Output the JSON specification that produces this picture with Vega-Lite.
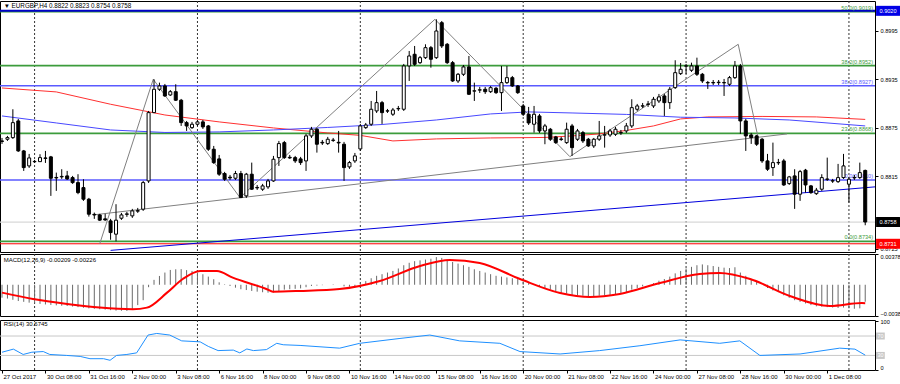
{
"$schema":"https://vega.github.io/schema/vega-lite/v6.json",
"padding":{"left":-3,"top":0,"right":0,"bottom":0},
"background":"white",
"spacing":0,
"config":{"view":{"stroke":"#000","strokeWidth":1},"font":"Liberation Sans","text":{"font":"Liberation Sans"},"axis":{"labelFont":"Liberation Sans","grid":false,"domain":false,"tickColor":"#000","labelColor":"#000","tickSize":3}},
"resolve":{"scale":{"x":"independent","y":"independent"}},
"datasets":{
"grid":[{"i":6},{"i":36},{"i":66},{"i":96},{"i":126},{"i":156}],
"levels":[{"p":0.9019,"g":"fibA"},{"p":0.8952,"g":"fibA"},{"p":0.8868,"g":"fibA"},{"p":0.8734,"g":"fibA"},{"p":0.8927,"g":"fibB"},{"p":0.8810,"g":"fibB"},{"p":0.8758,"g":"bid"},{"p":0.8731,"g":"low"},{"p":0.9020,"g":"top"}],
"fibtext":[{"p":0.9019,"t":"50.0(0.9019)","g":"fibA"},{"p":0.8952,"t":"38.2(0.8952)","g":"fibA"},{"p":0.8927,"t":"38.2(0.8927)","g":"fibB"},{"p":0.8868,"t":"23.6(0.8868)","g":"fibA"},{"p":0.8810,"t":"0.0(0.8810)","g":"fibB"},{"p":0.8734,"t":"0.0(0.8734)","g":"fibA"}],
"boxes":[{"p":0.9020,"t":"0.9020","g":"top"},{"p":0.8758,"t":"0.8758","g":"bid"},{"p":0.8731,"t":"0.8731","g":"low"}],
"lines":[
{"n":"maR","i":0,"p":0.89243},{"n":"maR","i":10,"p":0.89194},{"n":"maR","i":20,"p":0.89041},{"n":"maR","i":30,"p":0.88908},{"n":"maR","i":40,"p":0.88822},{"n":"maR","i":50,"p":0.88747},{"n":"maR","i":60,"p":0.88685},{"n":"maR","i":66,"p":0.88655},{"n":"maR","i":72,"p":0.88586},{"n":"maR","i":80,"p":0.88611},{"n":"maR","i":90,"p":0.88623},{"n":"maR","i":100,"p":0.88629},{"n":"maR","i":105,"p":0.88648},{"n":"maR","i":110,"p":0.88673},{"n":"maR","i":115,"p":0.88716},{"n":"maR","i":120,"p":0.88772},{"n":"maR","i":125,"p":0.88859},{"n":"maR","i":130,"p":0.88884},{"n":"maR","i":140,"p":0.8889},{"n":"maR","i":150,"p":0.88884},{"n":"maR","i":159,"p":0.88853},
{"n":"maB","i":0,"p":0.88896},{"n":"maB","i":10,"p":0.88809},{"n":"maB","i":20,"p":0.88722},{"n":"maB","i":30,"p":0.88691},{"n":"maB","i":40,"p":0.88698},{"n":"maB","i":50,"p":0.88722},{"n":"maB","i":60,"p":0.88753},{"n":"maB","i":70,"p":0.8879},{"n":"maB","i":80,"p":0.88846},{"n":"maB","i":90,"p":0.88921},{"n":"maB","i":97,"p":0.88946},{"n":"maB","i":105,"p":0.88933},{"n":"maB","i":115,"p":0.88915},{"n":"maB","i":125,"p":0.8888},{"n":"maB","i":135,"p":0.88871},{"n":"maB","i":145,"p":0.88846},{"n":"maB","i":159,"p":0.88772},
{"n":"tr","i":16.8,"p":0.87668},{"n":"tr","i":144.6,"p":0.88673},
{"n":"zz","i":18,"p":0.8731},{"n":"zz","i":27.86,"p":0.89351},{"n":"zz","i":43.83,"p":0.87883},{"n":"zz","i":79.74,"p":0.90095},{"n":"zz","i":104.6,"p":0.88391},{"n":"zz","i":135.6,"p":0.89785},{"n":"zz","i":139.2,"p":0.88648},
{"n":"bt","i":20,"p":0.87228},{"n":"bt","i":160.8,"p":0.88016}
],
"candles":[
{"i":0,"o":0.88586,"h":0.88623,"l":0.88549,"c":0.8858},
{"i":1,"o":0.88607,"h":0.88648,"l":0.88586,"c":0.88627},
{"i":2,"o":0.88627,"h":0.88979,"l":0.88611,"c":0.88813},
{"i":3,"o":0.88834,"h":0.88859,"l":0.8845,"c":0.88462},
{"i":4,"o":0.88462,"h":0.88474,"l":0.88214,"c":0.88255},
{"i":5,"o":0.88276,"h":0.88425,"l":0.88251,"c":0.88375},
{"i":6,"o":0.88332,"h":0.8835,"l":0.88313,"c":0.88328},
{"i":7,"o":0.88329,"h":0.88421,"l":0.88326,"c":0.88379},
{"i":8,"o":0.88375,"h":0.88462,"l":0.88313,"c":0.88369},
{"i":9,"o":0.88388,"h":0.884,"l":0.87904,"c":0.88123},
{"i":10,"o":0.88133,"h":0.88193,"l":0.87966,"c":0.88127},
{"i":11,"o":0.8814,"h":0.88235,"l":0.88115,"c":0.88146},
{"i":12,"o":0.88152,"h":0.88214,"l":0.88102,"c":0.88115},
{"i":13,"o":0.88131,"h":0.88152,"l":0.88053,"c":0.88069},
{"i":14,"o":0.88069,"h":0.88173,"l":0.87925,"c":0.87945},
{"i":15,"o":0.88007,"h":0.88111,"l":0.87842,"c":0.87863},
{"i":16,"o":0.87863,"h":0.87879,"l":0.87647,"c":0.87677},
{"i":17,"o":0.87675,"h":0.87697,"l":0.87619,"c":0.87668},
{"i":18,"o":0.87668,"h":0.87681,"l":0.87594,"c":0.87603},
{"i":19,"o":0.87619,"h":0.87681,"l":0.87594,"c":0.87606},
{"i":20,"o":0.87594,"h":0.87619,"l":0.8736,"c":0.87449},
{"i":21,"o":0.87429,"h":0.87801,"l":0.8734,"c":0.87603},
{"i":22,"o":0.87627,"h":0.87693,"l":0.87606,"c":0.87668},
{"i":23,"o":0.87675,"h":0.87706,"l":0.87644,"c":0.87681},
{"i":24,"o":0.87656,"h":0.87743,"l":0.87631,"c":0.87718},
{"i":25,"o":0.87714,"h":0.87755,"l":0.87693,"c":0.87722},
{"i":26,"o":0.87739,"h":0.8809,"l":0.87718,"c":0.88069},
{"i":27,"o":0.8809,"h":0.88958,"l":0.88065,"c":0.88937},
{"i":28,"o":0.88937,"h":0.89351,"l":0.88933,"c":0.89227},
{"i":29,"o":0.89227,"h":0.89309,"l":0.89206,"c":0.89268},
{"i":30,"o":0.89268,"h":0.89293,"l":0.89132,"c":0.89144},
{"i":31,"o":0.89156,"h":0.89218,"l":0.89144,"c":0.89197},
{"i":32,"o":0.89197,"h":0.89289,"l":0.89082,"c":0.89091},
{"i":33,"o":0.89091,"h":0.89107,"l":0.88772,"c":0.88813},
{"i":34,"o":0.88813,"h":0.88834,"l":0.8871,"c":0.88772},
{"i":35,"o":0.88751,"h":0.88822,"l":0.88735,"c":0.88793},
{"i":36,"o":0.88793,"h":0.88846,"l":0.88772,"c":0.88822},
{"i":37,"o":0.88822,"h":0.88846,"l":0.88735,"c":0.8876},
{"i":38,"o":0.88772,"h":0.88784,"l":0.88462,"c":0.88483},
{"i":39,"o":0.88483,"h":0.88524,"l":0.88301,"c":0.88317},
{"i":40,"o":0.88363,"h":0.88412,"l":0.88152,"c":0.88173},
{"i":41,"o":0.88181,"h":0.88202,"l":0.8809,"c":0.88111},
{"i":42,"o":0.88136,"h":0.88164,"l":0.88102,"c":0.88127},
{"i":43,"o":0.88123,"h":0.88214,"l":0.88102,"c":0.88181},
{"i":44,"o":0.88181,"h":0.88214,"l":0.87879,"c":0.87883},
{"i":45,"o":0.87904,"h":0.88189,"l":0.87879,"c":0.88173},
{"i":46,"o":0.88173,"h":0.88317,"l":0.87978,"c":0.87987},
{"i":47,"o":0.88009,"h":0.8804,"l":0.87978,"c":0.88003},
{"i":48,"o":0.87987,"h":0.88053,"l":0.87966,"c":0.88028},
{"i":49,"o":0.88016,"h":0.88115,"l":0.87991,"c":0.8809},
{"i":50,"o":0.8809,"h":0.884,"l":0.88078,"c":0.88359},
{"i":51,"o":0.88379,"h":0.88586,"l":0.88276,"c":0.88553},
{"i":52,"o":0.88565,"h":0.88586,"l":0.88363,"c":0.88379},
{"i":53,"o":0.88383,"h":0.88412,"l":0.88363,"c":0.88375},
{"i":54,"o":0.88379,"h":0.884,"l":0.88313,"c":0.88338},
{"i":55,"o":0.88363,"h":0.88388,"l":0.88288,"c":0.88317},
{"i":56,"o":0.88338,"h":0.88673,"l":0.88214,"c":0.88648},
{"i":57,"o":0.88648,"h":0.8876,"l":0.88623,"c":0.88731},
{"i":58,"o":0.88731,"h":0.88747,"l":0.88441,"c":0.88545},
{"i":59,"o":0.88569,"h":0.88598,"l":0.88536,"c":0.88561},
{"i":60,"o":0.88553,"h":0.88636,"l":0.88536,"c":0.88607},
{"i":61,"o":0.88592,"h":0.88623,"l":0.88574,"c":0.88597},
{"i":62,"o":0.88569,"h":0.8871,"l":0.88441,"c":0.88561},
{"i":63,"o":0.88545,"h":0.88574,"l":0.8809,"c":0.88255},
{"i":64,"o":0.88264,"h":0.88338,"l":0.88239,"c":0.88317},
{"i":65,"o":0.88338,"h":0.88437,"l":0.88313,"c":0.884},
{"i":66,"o":0.88487,"h":0.88797,"l":0.88462,"c":0.88772},
{"i":67,"o":0.88751,"h":0.88809,"l":0.88735,"c":0.88784},
{"i":68,"o":0.88793,"h":0.89082,"l":0.88772,"c":0.88979},
{"i":69,"o":0.88958,"h":0.89206,"l":0.88933,"c":0.89061},
{"i":70,"o":0.89061,"h":0.89082,"l":0.88797,"c":0.88937},
{"i":71,"o":0.88956,"h":0.88983,"l":0.88933,"c":0.8896},
{"i":72,"o":0.88917,"h":0.88995,"l":0.88896,"c":0.8897},
{"i":73,"o":0.88984,"h":0.8902,"l":0.88958,"c":0.88989},
{"i":74,"o":0.88979,"h":0.89541,"l":0.88958,"c":0.89516},
{"i":75,"o":0.89516,"h":0.89702,"l":0.8933,"c":0.8964},
{"i":76,"o":0.89661,"h":0.89764,"l":0.89516,"c":0.89537},
{"i":77,"o":0.89557,"h":0.8964,"l":0.89541,"c":0.89619},
{"i":78,"o":0.89619,"h":0.89785,"l":0.89603,"c":0.89743},
{"i":79,"o":0.89743,"h":0.89764,"l":0.89495,"c":0.89599},
{"i":80,"o":0.89619,"h":0.90095,"l":0.89603,"c":0.8995},
{"i":81,"o":0.90053,"h":0.90074,"l":0.89739,"c":0.89764},
{"i":82,"o":0.89785,"h":0.89801,"l":0.89541,"c":0.89557},
{"i":83,"o":0.89557,"h":0.89578,"l":0.89318,"c":0.8933},
{"i":84,"o":0.8933,"h":0.89429,"l":0.89305,"c":0.89413},
{"i":85,"o":0.89413,"h":0.89528,"l":0.89392,"c":0.89504},
{"i":86,"o":0.89504,"h":0.8964,"l":0.89156,"c":0.89165},
{"i":87,"o":0.89204,"h":0.89309,"l":0.89082,"c":0.89208},
{"i":88,"o":0.89216,"h":0.89256,"l":0.89181,"c":0.89221},
{"i":89,"o":0.89227,"h":0.89256,"l":0.89169,"c":0.89197},
{"i":90,"o":0.89197,"h":0.89268,"l":0.89181,"c":0.89247},
{"i":91,"o":0.89239,"h":0.89256,"l":0.89169,"c":0.89185},
{"i":92,"o":0.89185,"h":0.89516,"l":0.88958,"c":0.89309},
{"i":93,"o":0.89309,"h":0.89516,"l":0.89293,"c":0.89371},
{"i":94,"o":0.89371,"h":0.89392,"l":0.89256,"c":0.89268},
{"i":95,"o":0.89268,"h":0.8928,"l":0.89169,"c":0.89185},
{"i":96,"o":0.8902,"h":0.89045,"l":0.88896,"c":0.88917},
{"i":97,"o":0.88917,"h":0.89008,"l":0.88784,"c":0.88809},
{"i":98,"o":0.88793,"h":0.8902,"l":0.88689,"c":0.88917},
{"i":99,"o":0.88896,"h":0.88921,"l":0.88685,"c":0.8871},
{"i":100,"o":0.8871,"h":0.88797,"l":0.88545,"c":0.88772},
{"i":101,"o":0.88731,"h":0.88747,"l":0.88586,"c":0.88607},
{"i":102,"o":0.88636,"h":0.88648,"l":0.88549,"c":0.88565},
{"i":103,"o":0.8861,"h":0.88636,"l":0.88586,"c":0.88605},
{"i":104,"o":0.88565,"h":0.88813,"l":0.88549,"c":0.88731},
{"i":105,"o":0.88772,"h":0.88797,"l":0.884,"c":0.88503},
{"i":106,"o":0.88607,"h":0.88735,"l":0.88586,"c":0.8871},
{"i":107,"o":0.88689,"h":0.8871,"l":0.88561,"c":0.88586},
{"i":108,"o":0.88607,"h":0.88623,"l":0.88512,"c":0.88524},
{"i":109,"o":0.88524,"h":0.88623,"l":0.88499,"c":0.88607},
{"i":110,"o":0.88607,"h":0.88834,"l":0.88586,"c":0.88648},
{"i":111,"o":0.88658,"h":0.88772,"l":0.88503,"c":0.88663},
{"i":112,"o":0.8866,"h":0.88735,"l":0.88636,"c":0.8871},
{"i":113,"o":0.88669,"h":0.8876,"l":0.88648,"c":0.88731},
{"i":114,"o":0.88686,"h":0.88722,"l":0.8866,"c":0.88691},
{"i":115,"o":0.8871,"h":0.88809,"l":0.88685,"c":0.88772},
{"i":116,"o":0.88772,"h":0.89103,"l":0.88747,"c":0.88999},
{"i":117,"o":0.88979,"h":0.89045,"l":0.88958,"c":0.8902},
{"i":118,"o":0.89018,"h":0.89057,"l":0.88995,"c":0.89022},
{"i":119,"o":0.89039,"h":0.89082,"l":0.89008,"c":0.89044},
{"i":120,"o":0.8902,"h":0.89132,"l":0.88995,"c":0.89103},
{"i":121,"o":0.89082,"h":0.89169,"l":0.89057,"c":0.89132},
{"i":122,"o":0.89144,"h":0.89169,"l":0.88896,"c":0.89061},
{"i":123,"o":0.89061,"h":0.89256,"l":0.88983,"c":0.89227},
{"i":124,"o":0.89247,"h":0.89587,"l":0.89231,"c":0.89433},
{"i":125,"o":0.89421,"h":0.89553,"l":0.89404,"c":0.89475},
{"i":126,"o":0.89514,"h":0.89541,"l":0.89417,"c":0.89518},
{"i":127,"o":0.89463,"h":0.89557,"l":0.89442,"c":0.89516},
{"i":128,"o":0.89516,"h":0.89619,"l":0.89392,"c":0.89413},
{"i":129,"o":0.89413,"h":0.89429,"l":0.89305,"c":0.8933},
{"i":130,"o":0.89306,"h":0.8933,"l":0.89231,"c":0.89311},
{"i":131,"o":0.89311,"h":0.89342,"l":0.8928,"c":0.89306},
{"i":132,"o":0.89309,"h":0.89342,"l":0.8928,"c":0.89314},
{"i":133,"o":0.89306,"h":0.89355,"l":0.89144,"c":0.89311},
{"i":134,"o":0.89289,"h":0.89392,"l":0.89268,"c":0.89371},
{"i":135,"o":0.89371,"h":0.89578,"l":0.89355,"c":0.89516},
{"i":136,"o":0.89516,"h":0.89541,"l":0.88673,"c":0.88834},
{"i":137,"o":0.88834,"h":0.88859,"l":0.88462,"c":0.88648},
{"i":138,"o":0.8866,"h":0.88685,"l":0.88549,"c":0.88627},
{"i":139,"o":0.88648,"h":0.8866,"l":0.88524,"c":0.88545},
{"i":140,"o":0.88607,"h":0.88623,"l":0.88313,"c":0.88338},
{"i":141,"o":0.88338,"h":0.88425,"l":0.88214,"c":0.88235},
{"i":142,"o":0.88255,"h":0.88565,"l":0.88152,"c":0.88317},
{"i":143,"o":0.88314,"h":0.88363,"l":0.88288,"c":0.88319},
{"i":144,"o":0.88338,"h":0.88363,"l":0.88028,"c":0.8804},
{"i":145,"o":0.88057,"h":0.88152,"l":0.8804,"c":0.8814},
{"i":146,"o":0.88152,"h":0.88235,"l":0.87743,"c":0.87925},
{"i":147,"o":0.87925,"h":0.88226,"l":0.87842,"c":0.88205},
{"i":148,"o":0.88223,"h":0.88239,"l":0.87945,"c":0.8804},
{"i":149,"o":0.88028,"h":0.8804,"l":0.87929,"c":0.87945},
{"i":150,"o":0.87932,"h":0.88003,"l":0.87916,"c":0.87975},
{"i":151,"o":0.87987,"h":0.88173,"l":0.87966,"c":0.88131},
{"i":152,"o":0.88109,"h":0.88379,"l":0.8809,"c":0.88114},
{"i":153,"o":0.88088,"h":0.88115,"l":0.88065,"c":0.88093},
{"i":154,"o":0.88081,"h":0.88301,"l":0.88065,"c":0.88131},
{"i":155,"o":0.88131,"h":0.88425,"l":0.88115,"c":0.88276},
{"i":156,"o":0.88049,"h":0.8814,"l":0.87821,"c":0.88111},
{"i":157,"o":0.88128,"h":0.88164,"l":0.88102,"c":0.88133},
{"i":158,"o":0.88131,"h":0.88317,"l":0.88115,"c":0.88193},
{"i":159,"o":0.8822,"h":0.8823,"l":0.8754,"c":0.8758}
],
"macd":[
{"i":0,"m":-0.00159},{"i":1,"m":-0.0017},{"i":2,"m":-0.00185},{"i":3,"m":-0.002},{"i":4,"m":-0.0021},{"i":5,"m":-0.0022},{"i":6,"m":-0.00228},{"i":7,"m":-0.00235},{"i":8,"m":-0.00242},{"i":9,"m":-0.00248},{"i":10,"m":-0.00253},{"i":11,"m":-0.00258},{"i":12,"m":-0.00261},{"i":13,"m":-0.00268},{"i":14,"m":-0.00275},{"i":15,"m":-0.00283},{"i":16,"m":-0.0029},{"i":17,"m":-0.00296},{"i":18,"m":-0.00301},{"i":19,"m":-0.00306},{"i":20,"m":-0.00312},{"i":21,"m":-0.00318},{"i":22,"m":-0.0032},{"i":23,"m":-0.00322},{"i":24,"m":-0.0031},{"i":25,"m":-0.0025},{"i":26,"m":-0.0019},{"i":27,"m":-0.0003},{"i":28,"m":0.0006},{"i":29,"m":0.00108},{"i":30,"m":0.0015},{"i":31,"m":0.00182},{"i":32,"m":0.0019},{"i":33,"m":0.00192},{"i":34,"m":0.0018},{"i":35,"m":0.0017},{"i":36,"m":0.0015},{"i":37,"m":0.00129},{"i":38,"m":0.001},{"i":39,"m":0.00068},{"i":40,"m":0.0003},{"i":41,"m":0.00006},{"i":42,"m":-0.00015},{"i":43,"m":-0.00036},{"i":44,"m":-0.00055},{"i":45,"m":-0.00065},{"i":46,"m":-0.00076},{"i":47,"m":-0.00085},{"i":48,"m":-0.00092},{"i":49,"m":-0.00097},{"i":50,"m":-0.00095},{"i":51,"m":-0.0008},{"i":52,"m":-0.0006},{"i":53,"m":-0.00055},{"i":54,"m":-0.0005},{"i":55,"m":-0.00045},{"i":56,"m":-0.0003},{"i":57,"m":-0.00015},{"i":58,"m":-0.0001},{"i":59,"m":-0.00005},{"i":60,"m":0.0},{"i":61,"m":0.00005},{"i":62,"m":0.0},{"i":63,"m":-0.0002},{"i":64,"m":-0.00025},{"i":65,"m":-0.00015},{"i":66,"m":0.0002},{"i":67,"m":0.00045},{"i":68,"m":0.0008},{"i":69,"m":0.0011},{"i":70,"m":0.0013},{"i":71,"m":0.0015},{"i":72,"m":0.0017},{"i":73,"m":0.002},{"i":74,"m":0.0024},{"i":75,"m":0.0027},{"i":76,"m":0.0029},{"i":77,"m":0.003},{"i":78,"m":0.0031},{"i":79,"m":0.0032},{"i":80,"m":0.0034},{"i":81,"m":0.0033},{"i":82,"m":0.0031},{"i":83,"m":0.0028},{"i":84,"m":0.0026},{"i":85,"m":0.0024},{"i":86,"m":0.0022},{"i":87,"m":0.0019},{"i":88,"m":0.0017},{"i":89,"m":0.0015},{"i":90,"m":0.0013},{"i":91,"m":0.0011},{"i":92,"m":0.001},{"i":93,"m":0.0009},{"i":94,"m":0.0008},{"i":95,"m":0.0007},{"i":96,"m":0.0004},{"i":97,"m":0.0002},{"i":98,"m":0.0},{"i":99,"m":-0.0002},{"i":100,"m":-0.0004},{"i":101,"m":-0.0006},{"i":102,"m":-0.0008},{"i":103,"m":-0.001},{"i":104,"m":-0.0011},{"i":105,"m":-0.0013},{"i":106,"m":-0.0013},{"i":107,"m":-0.00135},{"i":108,"m":-0.0014},{"i":109,"m":-0.0014},{"i":110,"m":-0.00135},{"i":111,"m":-0.0013},{"i":112,"m":-0.00125},{"i":113,"m":-0.00115},{"i":114,"m":-0.001},{"i":115,"m":-0.0009},{"i":116,"m":-0.0006},{"i":117,"m":-0.0004},{"i":118,"m":-0.0002},{"i":119,"m":0.0},{"i":120,"m":0.0002},{"i":121,"m":0.0005},{"i":122,"m":0.0007},{"i":123,"m":0.001},{"i":124,"m":0.0014},{"i":125,"m":0.0017},{"i":126,"m":0.002},{"i":127,"m":0.0022},{"i":128,"m":0.0024},{"i":129,"m":0.0025},{"i":130,"m":0.0024},{"i":131,"m":0.0023},{"i":132,"m":0.0022},{"i":133,"m":0.0021},{"i":134,"m":0.00205},{"i":135,"m":0.00215},{"i":136,"m":0.0015},{"i":137,"m":0.0011},{"i":138,"m":0.0007},{"i":139,"m":0.0004},{"i":140,"m":0.0},{"i":141,"m":-0.0004},{"i":142,"m":-0.0007},{"i":143,"m":-0.0009},{"i":144,"m":-0.0013},{"i":145,"m":-0.0016},{"i":146,"m":-0.0019},{"i":147,"m":-0.0021},{"i":148,"m":-0.0023},{"i":149,"m":-0.0025},{"i":150,"m":-0.00265},{"i":151,"m":-0.0027},{"i":152,"m":-0.00275},{"i":153,"m":-0.0028},{"i":154,"m":-0.00285},{"i":155,"m":-0.0028},{"i":156,"m":-0.0029},{"i":157,"m":-0.00295},{"i":158,"m":-0.0029},{"i":159,"m":-0.00209}
],
"sig":[
{"i":0,"s":-0.00097},{"i":5.7,"s":-0.00175},{"i":12,"s":-0.00236},{"i":18,"s":-0.00281},{"i":24.1,"s":-0.00301},{"i":26.7,"s":-0.00281},{"i":30.4,"s":-0.00097},{"i":33.3,"s":0.00071},{"i":36.5,"s":0.0017},{"i":39.6,"s":0.0017},{"i":42.5,"s":0.00087},{"i":48.8,"s":-0.00055},{"i":49.9,"s":-0.00085},{"i":54.9,"s":-0.00076},{"i":62.2,"s":-0.00052},{"i":69.6,"s":0.00047},{"i":77,"s":0.00231},{"i":82.5,"s":0.00305},{"i":88,"s":0.00268},{"i":95.4,"s":0.00071},{"i":102.8,"s":-0.00101},{"i":108.3,"s":-0.0015},{"i":113.8,"s":-0.00113},{"i":121.2,"s":0.00022},{"i":128.5,"s":0.00133},{"i":132.2,"s":0.00145},{"i":137.8,"s":0.00071},{"i":145.1,"s":-0.00138},{"i":152.5,"s":-0.00261},{"i":158.4,"s":-0.00224},{"i":159,"s":-0.00226}
],
"rsi":[
{"i":0,"r":36.6},{"i":2.1,"r":43},{"i":3.9,"r":32},{"i":5.5,"r":36.6},{"i":7.6,"r":38},{"i":8.8,"r":32},{"i":11.9,"r":30},{"i":14.4,"r":28},{"i":16.2,"r":23.3},{"i":18.7,"r":23.3},{"i":19.9,"r":20},{"i":21.1,"r":30},{"i":23,"r":32},{"i":24.8,"r":35.3},{"i":26.9,"r":72},{"i":28.5,"r":75.3},{"i":30.9,"r":72},{"i":33.1,"r":60},{"i":36.5,"r":58},{"i":38,"r":48.6},{"i":39.8,"r":40},{"i":42.6,"r":41},{"i":43.8,"r":35.3},{"i":45.1,"r":43.3},{"i":46.3,"r":40},{"i":48.7,"r":42},{"i":50.6,"r":55},{"i":51.8,"r":52},{"i":54.9,"r":50.6},{"i":62.2,"r":45},{"i":65.9,"r":55},{"i":73.3,"r":65},{"i":78.8,"r":72},{"i":84.3,"r":60},{"i":91.7,"r":55},{"i":95.4,"r":38},{"i":102.8,"r":33},{"i":110.1,"r":40},{"i":117.5,"r":50},{"i":124.9,"r":62},{"i":132.2,"r":55},{"i":135.9,"r":60},{"i":139.6,"r":30},{"i":147,"r":33},{"i":154.3,"r":45},{"i":157.1,"r":43},{"i":159,"r":30.67}
],
"rsilev":[{"v":30,"t":"30"},{"v":70,"t":"70"}]
},
"vconcat":[
{
"width":875,"height":251,
"resolve":{"scale":{"color":"independent","strokeWidth":"independent"}},
"layer":[
{"data":{"name":"grid"},"mark":{"type":"rule","strokeDash":[2,2],"color":"#333","strokeWidth":1},
 "encoding":{"x":{"field":"i","type":"quantitative","scale":{"domain":[-0.37,160.8],"nice":false,"zero":false,"padding":0},"axis":null}}},
{"data":{"name":"levels"},"mark":{"type":"rule"},
 "encoding":{"y":{"field":"p","type":"quantitative","scale":{"domain":[0.87208,0.90322],"nice":false,"zero":false,"padding":0},
   "axis":{"orient":"right","title":null,"values":[0.8725,0.8785,0.8815,0.8845,0.8875,0.8905,0.8935,0.8965,0.8995,0.9025],"format":".4f","tickSize":3,"tickColor":"#000","labelFontSize":5.6,"labelColor":"#000","labelPadding":2,"domain":false,"grid":false,"labelOverlap":false,"labelBound":false}},
  "color":{"field":"g","type":"nominal","scale":{"domain":["top","fibA","fibB","bid","low"],"range":["#0000c8","#3c9c3c","#5a5aff","#d8d8d8","#ff0000"]},"legend":null},
  "strokeWidth":{"field":"g","type":"nominal","scale":{"domain":["top","fibA","fibB","bid","low"],"range":[2,1,1,2,2]},"legend":null}}},
{"data":{"name":"fibtext"},"mark":{"type":"text","align":"right","baseline":"bottom","dy":-1,"fontSize":5.6},
 "encoding":{"x":{"datum":160.45,"type":"quantitative","axis":null},"y":{"field":"p","type":"quantitative","title":null},"text":{"field":"t"},
  "color":{"field":"g","type":"nominal","scale":{"domain":["fibA","fibB"],"range":["#3c9c3c","#5a5aff"]},"legend":null}}},
{"data":{"name":"lines"},"mark":{"type":"line","interpolate":"linear"},
 "encoding":{"x":{"field":"i","type":"quantitative","axis":null},"y":{"field":"p","type":"quantitative","title":null},"detail":{"field":"n"},
  "color":{"field":"n","type":"nominal","scale":{"domain":["maR","maB","tr","zz","bt"],"range":["#ff3030","#4848ff","#808080","#808080","#0000dd"]},"legend":null},
  "strokeWidth":{"field":"n","type":"nominal","scale":{"domain":["maR","maB","tr","zz","bt"],"range":[1,1,1.2,1.2,2]},"legend":null}}},
{"data":{"name":"candles"},"mark":{"type":"rule","color":"#000","strokeWidth":1},
 "encoding":{"x":{"field":"i","type":"quantitative","axis":null},"y":{"field":"l","type":"quantitative","title":null},"y2":{"field":"h"}}},
{"data":{"name":"candles"},"mark":{"type":"bar","orient":"vertical","size":3,"stroke":"#000","strokeWidth":1},
 "encoding":{"x":{"field":"i","type":"quantitative","axis":null},"y":{"field":"o","type":"quantitative","title":null},"y2":{"field":"c"},
  "fill":{"condition":{"test":"datum.c > datum.o","value":"#ffffff"},"value":"#000000"}}},
{"data":{"name":"boxes"},"mark":{"type":"rule","strokeWidth":10,"strokeCap":"butt"},
 "encoding":{"x":{"datum":161.0,"type":"quantitative","axis":null},"x2":{"datum":165.4},"y":{"field":"p","type":"quantitative","title":null},
  "color":{"field":"g","type":"nominal","scale":{"domain":["top","bid","low"],"range":["#0000e6","#000000","#ff0000"]},"legend":null}}},
{"data":{"name":"boxes"},"mark":{"type":"text","align":"center","baseline":"middle","fontSize":5.6,"color":"#ffffff"},
 "encoding":{"x":{"datum":163.2,"type":"quantitative","axis":null},"y":{"field":"p","type":"quantitative","title":null},"text":{"field":"t"}}},
{"data":{"values":[{"t":"▼  EURGBP,H4  0.8822 0.8823 0.8754 0.8758"}]},"mark":{"type":"text","align":"left","baseline":"middle","fontSize":6.3,"color":"#000"},
 "encoding":{"x":{"datum":0.3,"type":"quantitative","axis":null},"y":{"datum":0.90262,"type":"quantitative","title":null},"text":{"field":"t"}}}
]
},
{
"width":875,"height":62,
"layer":[
{"data":{"name":"grid"},"mark":{"type":"rule","strokeDash":[2,2],"color":"#333","strokeWidth":1},
 "encoding":{"x":{"field":"i","type":"quantitative","scale":{"domain":[-0.37,160.8],"nice":false,"zero":false,"padding":0},"axis":null}}},
{"data":{"name":"macd"},"mark":{"type":"rule","color":"#6a6a6a","strokeWidth":1},
 "encoding":{"x":{"field":"i","type":"quantitative","axis":null},
  "y":{"field":"m","type":"quantitative","scale":{"domain":[-0.00384,0.00378],"nice":false,"zero":false,"padding":0},
   "axis":{"orient":"right","title":null,"values":[-0.00384,0,0.00378],"labelExpr":"datum.value == 0 ? '0.00' : format(datum.value, '.5f')","tickSize":3,"tickColor":"#000","labelFontSize":5.6,"labelColor":"#000","labelPadding":2,"domain":false,"grid":false,"labelFlush":true,"labelOverlap":false,"labelBound":false}},
  "y2":{"datum":0}}},
{"data":{"name":"sig"},"mark":{"type":"line","color":"#ff0000","strokeWidth":2,"interpolate":"monotone"},
 "encoding":{"x":{"field":"i","type":"quantitative","axis":null},"y":{"field":"s","type":"quantitative","title":null}}},
{"data":{"values":[{"t":"MACD(12,26,9) -0.00209 -0.00226"}]},"mark":{"type":"text","align":"left","baseline":"middle","fontSize":6,"color":"#000"},
 "encoding":{"x":{"datum":0.3,"type":"quantitative","axis":null},"y":{"datum":0.0031,"type":"quantitative","title":null},"text":{"field":"t"}}}
]
},
{
"width":875,"height":50,
"layer":[
{"data":{"name":"grid"},"mark":{"type":"rule","strokeDash":[2,2],"color":"#333","strokeWidth":1},
 "encoding":{"x":{"field":"i","type":"quantitative","scale":{"domain":[-0.37,160.8],"nice":false,"zero":false,"padding":0},
  "axis":{"orient":"bottom","title":null,"values":[0,8,16,24,32,40,48,56,64,72,80,88,96,104,112,120,128,136,144,152],
   "labelExpr":"['27 Oct 2017','30 Oct 08:00','31 Oct 16:00','2 Nov 00:00','3 Nov 08:00','6 Nov 16:00','8 Nov 00:00','9 Nov 08:00','10 Nov 16:00','14 Nov 00:00','15 Nov 08:00','16 Nov 16:00','20 Nov 00:00','21 Nov 08:00','22 Nov 16:00','24 Nov 00:00','27 Nov 08:00','28 Nov 16:00','30 Nov 00:00','1 Dec 08:00'][round(datum.value / 8)]",
   "tickSize":3,"tickColor":"#000","labelAlign":"left","labelBaseline":"top","labelOffset":1,"labelPadding":0,"labelFontSize":6,"labelColor":"#000","domain":false,"grid":false,"labelOverlap":false,"labelBound":false}}}},
{"data":{"name":"rsilev"},"mark":{"type":"rule","color":"#c8c8c8","strokeWidth":1},
 "encoding":{"y":{"field":"v","type":"quantitative","scale":{"domain":[0,103],"nice":false,"zero":false,"padding":0},
  "axis":{"orient":"right","title":null,"values":[0,100],"tickSize":3,"tickColor":"#000","labelFontSize":5.6,"labelColor":"#000","labelPadding":2,"domain":false,"grid":false,"labelFlush":true,"labelOverlap":false}}}},
{"data":{"name":"rsi"},"mark":{"type":"line","color":"#1e90ff","strokeWidth":1},
 "encoding":{"x":{"field":"i","type":"quantitative","title":null},"y":{"field":"r","type":"quantitative","title":null}}},
{"data":{"name":"rsilev"},"mark":{"type":"rule","strokeWidth":7,"strokeCap":"butt","color":"#c8c8c8"},
 "encoding":{"x":{"datum":161.0,"type":"quantitative","title":null},"x2":{"datum":162.6},"y":{"field":"v","type":"quantitative","title":null}}},
{"data":{"name":"rsilev"},"mark":{"type":"text","align":"center","baseline":"middle","fontSize":5.4,"color":"#ffffff"},
 "encoding":{"x":{"datum":161.8,"type":"quantitative","title":null},"y":{"field":"v","type":"quantitative","title":null},"text":{"field":"t"}}},
{"data":{"values":[{"t":"RSI(14) 30.6745"}]},"mark":{"type":"text","align":"left","baseline":"middle","fontSize":6,"color":"#000"},
 "encoding":{"x":{"datum":0.3,"type":"quantitative","title":null},"y":{"datum":94,"type":"quantitative","title":null},"text":{"field":"t"}}}
]
}
]
}
